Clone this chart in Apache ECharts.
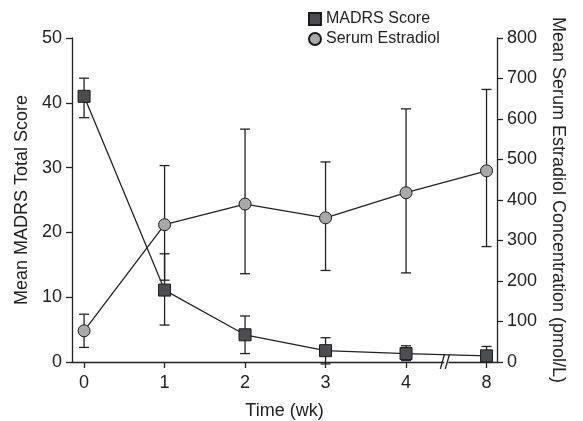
<!DOCTYPE html>
<html>
<head>
<meta charset="utf-8">
<script src="https://cdn.jsdelivr.net/npm/echarts@6/dist/echarts.min.js"></script>
<style>
html,body{margin:0;padding:0;background:#fff;}
#chart{width:583px;height:421px;}
</style>
</head>
<body>
<div id="chart"></div>
<script>
// ---- data ----
var weekLabels = ['0', '1', '2', '3', '4', '8'];
var weekIndex = [0, 1, 2, 3, 4, 5];
var madrs = [41, 11.1, 4.2, 1.75, 1.3, 0.95];
var madrsLow = [37.7, 5.7, 1.3, -0.3, 0.2, 0.2];
var madrsHigh = [43.8, 16.7, 7.1, 3.75, 2.5, 2.4];
var estradiol = [77, 339, 390, 356, 418, 472];
var estradiolLow = [36, 202, 218, 226, 220, 285];
var estradiolHigh = [118, 485, 575, 494, 625, 673];
var leftTicks = [0, 10, 20, 30, 40, 50];
var rightTicks = [0, 100, 200, 300, 400, 500, 600, 700, 800];
var breakAt = [4.5];

var FONT = 'Liberation Sans, Arial, Helvetica, sans-serif';
var INK = '#222';

function pairs(xs, ys) { return xs.map(function (x, i) { return [x, ys[i]]; }); }
function errData(lo, hi) { return weekIndex.map(function (x, i) { return [x, lo[i], hi[i]]; }); }

function errRender(params, api) {
  var x = api.value(0);
  var lo = api.coord([x, api.value(1)]);
  var hi = api.coord([x, api.value(2)]);
  var w = 5;
  var st = { stroke: INK, lineWidth: 1.3 };
  return {
    type: 'group',
    children: [
      { type: 'line', shape: { x1: lo[0], y1: lo[1], x2: hi[0], y2: hi[1] }, style: st },
      { type: 'line', shape: { x1: lo[0] - w, y1: lo[1], x2: lo[0] + w, y2: lo[1] }, style: st },
      { type: 'line', shape: { x1: hi[0] - w, y1: hi[1], x2: hi[0] + w, y2: hi[1] }, style: st }
    ]
  };
}

function breakRender(params, api) {
  var p = api.coord([api.value(0), 0]);
  var st = { stroke: INK, lineWidth: 1.3 };
  return {
    type: 'group',
    children: [
      { type: 'rect', shape: { x: p[0] - 2, y: p[1] - 2, width: 4, height: 4 }, style: { fill: '#fff' } },
      { type: 'line', shape: { x1: p[0] - 6, y1: p[1] + 7, x2: p[0] - 2, y2: p[1] - 7 }, style: st },
      { type: 'line', shape: { x1: p[0] - 1, y1: p[1] + 7, x2: p[0] + 3, y2: p[1] - 7 }, style: st }
    ]
  };
}

var chart = echarts.init(document.getElementById('chart'), null, { renderer: 'canvas' });

var axisCommon = {
  axisLine: { show: true, onZero: false, lineStyle: { color: INK, width: 1.3 } },
  axisTick: { show: true, inside: false, length: 6, lineStyle: { color: INK, width: 1.3 } },
  splitLine: { show: false },
  nameTextStyle: { color: INK, fontSize: 18, fontFamily: FONT },
  axisLabel: { color: INK, fontSize: 18, fontFamily: FONT, margin: 10 }
};

chart.setOption({
  animation: false,
  backgroundColor: '#fff',
  textStyle: { fontFamily: FONT, color: INK },
  grid: { left: 72, right: 86, top: 38, bottom: 59, containLabel: false, outerBoundsMode: 'none' },
  legend: {
    orient: 'vertical',
    left: 303,
    top: 6,
    itemWidth: 12,
    itemHeight: 12,
    itemGap: 4,
    textStyle: { color: INK, fontSize: 16, fontFamily: FONT },
    data: [
      { name: 'MADRS Score', icon: 'rect' },
      { name: 'Serum Estradiol', icon: 'circle' }
    ]
  },
  xAxis: Object.assign({}, axisCommon, {
    type: 'value',
    min: -0.15,
    max: 5.13,
    name: 'Time (wk)',
    nameLocation: 'middle',
    nameGap: 40,
    axisTick: Object.assign({}, axisCommon.axisTick, { customValues: weekIndex }),
    axisLabel: Object.assign({}, axisCommon.axisLabel, {
      margin: 12,
      customValues: weekIndex,
      formatter: function (v) { return weekLabels[Math.round(v)]; }
    })
  }),
  yAxis: [
    Object.assign({}, axisCommon, {
      type: 'value',
      min: 0, max: 50, interval: 10,
      position: 'left',
      name: 'Mean MADRS Total Score',
      nameLocation: 'middle',
      nameRotate: 90,
      nameGap: 36
    }),
    Object.assign({}, axisCommon, {
      type: 'value',
      min: 0, max: 800, interval: 100,
      position: 'right',
      name: 'Mean Serum Estradiol Concentration (pmol/L)',
      nameLocation: 'middle',
      nameRotate: -90,
      nameGap: 52
    })
  ],
  series: [
    {
      name: 'MADRS err', type: 'custom', yAxisIndex: 0, z: 3, clip: false,
      renderItem: errRender, data: errData(madrsLow, madrsHigh), silent: true
    },
    {
      name: 'Estradiol err', type: 'custom', yAxisIndex: 1, z: 3, clip: false,
      renderItem: errRender, data: errData(estradiolLow, estradiolHigh), silent: true
    },
    {
      name: 'MADRS Score', type: 'line', yAxisIndex: 0, z: 5,
      data: pairs(weekIndex, madrs),
      symbol: 'rect', symbolSize: 12,
      lineStyle: { color: INK, width: 1.3 },
      itemStyle: { color: '#4a4d52', borderColor: '#1a1a1a', borderWidth: 1 }
    },
    {
      name: 'Serum Estradiol', type: 'line', yAxisIndex: 1, z: 4,
      data: pairs(weekIndex, estradiol),
      symbol: 'circle', symbolSize: 12,
      lineStyle: { color: INK, width: 1.3 },
      itemStyle: { color: '#a9a9a9', borderColor: '#1a1a1a', borderWidth: 1 }
    },
    {
      name: 'break', type: 'custom', yAxisIndex: 0, z: 6, clip: false,
      renderItem: breakRender, data: breakAt.map(function (b) { return [b, 0]; }), silent: true
    }
  ]
});
</script>
</body>
</html>
